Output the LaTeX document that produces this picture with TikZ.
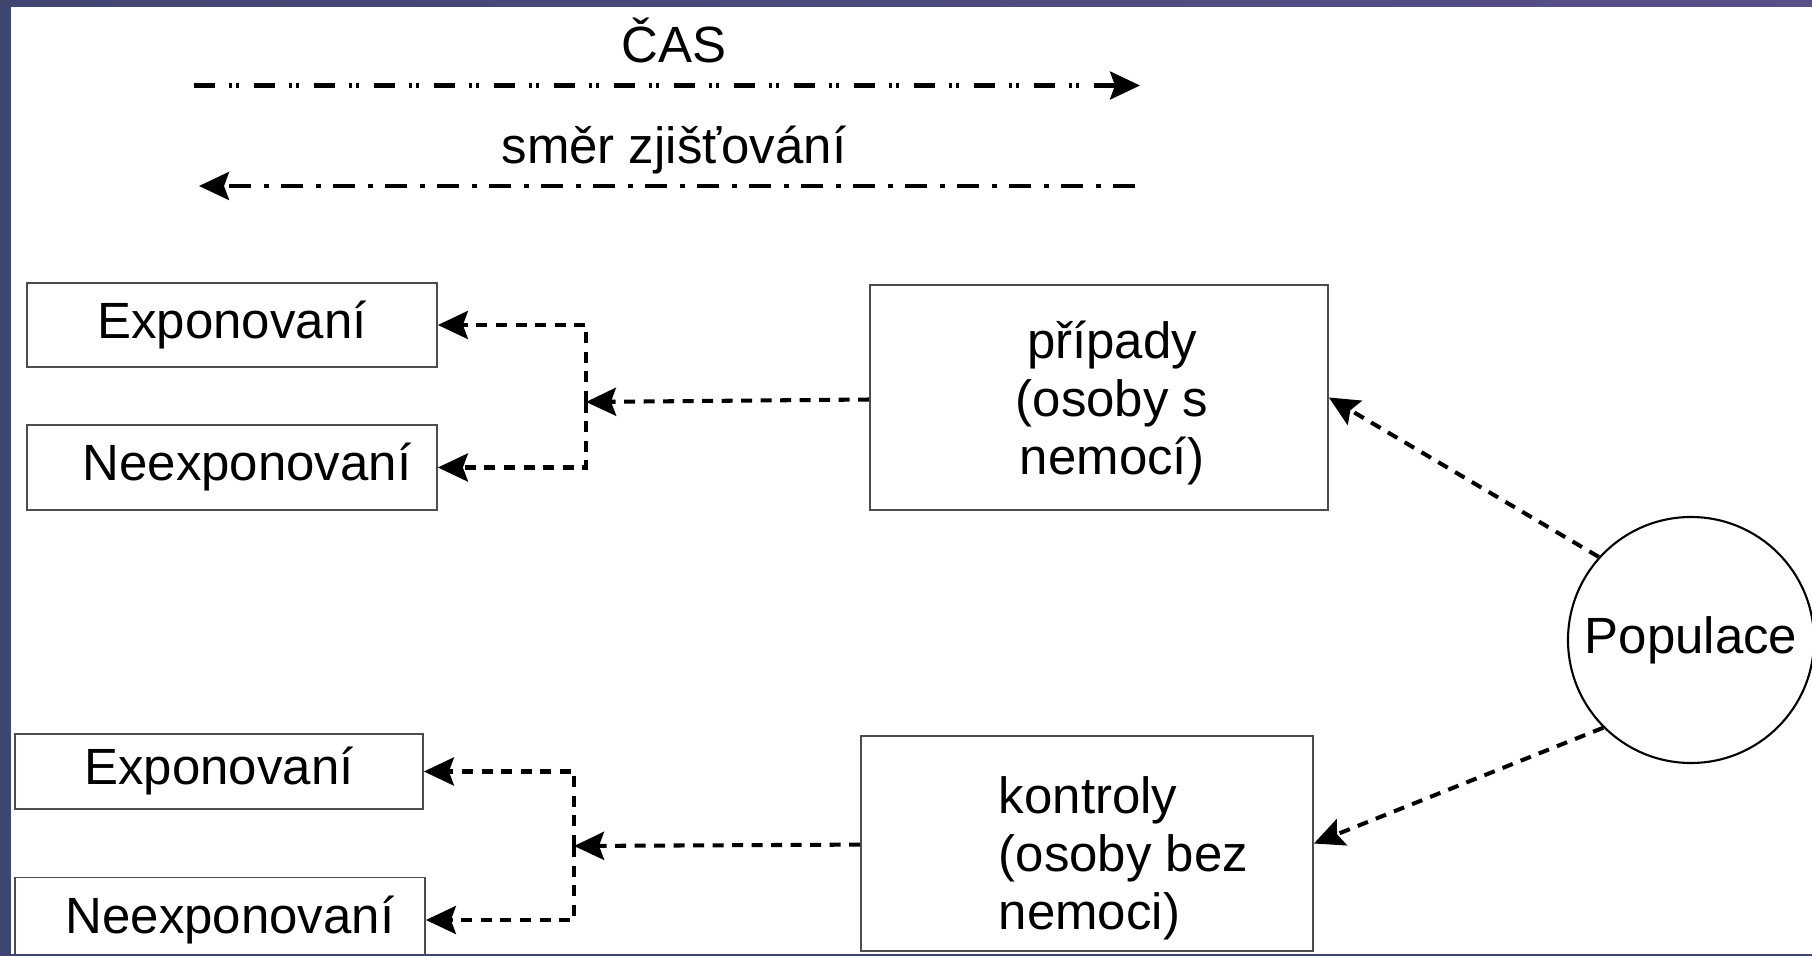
\documentclass[tikz,border=0pt]{standalone}
\usepackage{fontspec}
\setmainfont{Liberation Sans}
\usetikzlibrary{positioning, arrows.meta}
\definecolor{bandblue}{RGB}{64,70,114}
\definecolor{bandpurple}{RGB}{88,80,136}

\begin{document}
\begin{tikzpicture}[font=\fontsize{14.5}{16.5}\selectfont,
    box/.style={rectangle, draw=black!70, line width=0.5pt, inner sep=0pt},
    conn/.style={line width=1.15pt, dash pattern=on 0.11cm off 0.085cm, -{Stealth[length=0.3cm,width=0.28cm,inset=0.05cm]}},
    timeline/.style={line width=1.15pt, -{Stealth[length=0.3cm,width=0.28cm,inset=0.05cm]}}]
                                \useasboundingbox (0,0) rectangle (18.12,-9.56);
                                % time arrows
                                \node (cas) at (6.74,-0.40) {ČAS};
                                \coordinate (t1a) at (1.94,-0.855);
                                \coordinate (t1b) at (11.40,-0.855);
                                \draw[timeline, dash pattern=on 0.21cm off 0.14cm on 0.03cm off 0.04cm on 0.03cm off 0.15cm] (t1a) -- (t1b);
                                \node (smer) at (6.74,-1.50) {směr zjišťování};
                                \coordinate (t2a) at (11.35,-1.86);
                                \coordinate (t2b) at (1.99,-1.86);
                                \draw[timeline, dash pattern=on 0.22cm off 0.12cm on 0.05cm off 0.13cm] (t2a) -- (t2b);
                                % boxes
                                \node[box, minimum width=4.10cm, minimum height=0.84cm] (exp1) at (2.32,-3.25) {Exponovaní};
                                \node[box, minimum width=4.10cm, minimum height=0.85cm] (nexp1) at (2.32,-4.675) {\hspace*{0.3cm}Neexponovaní};
                                \node[box, minimum width=4.58cm, minimum height=2.25cm, align=center] (pripady) at (10.99,-3.975) {\rule{0pt}{0.48cm}\hspace*{0.26cm}případy\\\hspace*{0.26cm}(osoby s\\\hspace*{0.26cm}nemocí)};
                                \node[circle, draw, line width=0.6pt, minimum size=2.46cm, inner sep=0pt] (pop) at (16.91,-6.40) {Populace};
                                \node[box, minimum width=4.52cm, minimum height=2.15cm, align=left] (kontroly) at (10.87,-8.435) {\rule{0pt}{0.66cm}\hspace*{0.73cm}kontroly\\\hspace*{0.73cm}(osoby bez\\\hspace*{0.73cm}nemoci)};
                                \node[box, minimum width=4.08cm, minimum height=0.75cm] (exp2) at (2.19,-7.715) {Exponovaní};
                                \node[box, minimum width=4.10cm, minimum height=0.85cm] (nexp2) at (2.20,-9.20) {\hspace*{0.2cm}Neexponovaní};
                                \coordinate (j1) at (5.86,-4.02);
                                \coordinate (j2) at (5.74,-8.46);
                                % connectors
                                \draw[conn] (pop.138) -- (pripady.east);
                                \draw[conn] (pop.225) -- (kontroly.east);
                                \draw[conn] (pripady) -- (j1);
                                \draw[conn] (j1) |- (exp1);
                                \draw[conn] (j1) |- (nexp1);
                                \draw[conn] (kontroly) -- (j2);
                                \draw[conn] (j2) |- (exp2);
                                \draw[conn] (j2) |- (nexp2);
                                % frame bands
                                \fill[bandblue] (0,0) rectangle (0.11,-9.56);
                                \shade[left color=bandblue, right color=bandpurple] (0,0) rectangle (18.12,-0.07);
                                \fill[bandblue] (0,-9.54) rectangle (18.12,-9.56);
                            \end{tikzpicture}
\end{document}
